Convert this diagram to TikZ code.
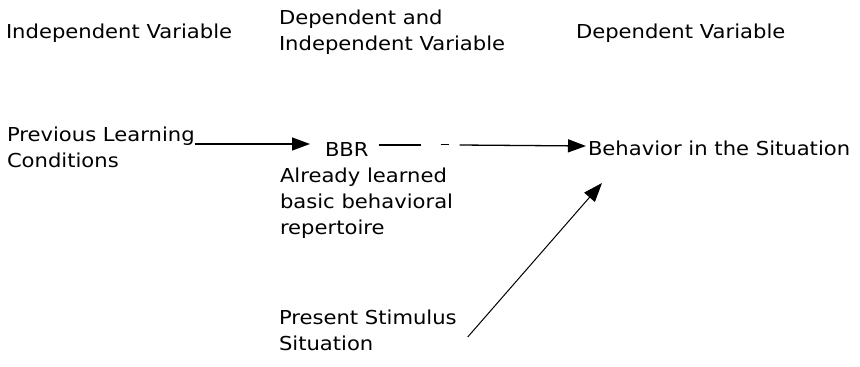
\documentclass[tikz,border=0pt]{standalone}
\usepackage{fontspec}
\setmainfont[FakeStretch=1.1]{DejaVu Sans}
\usetikzlibrary{arrows.meta}
\tikzset{
  lbl/.style={anchor=base west, inner sep=0pt, outer sep=0pt, font=\fontsize{19.2}{26}\selectfont},
  arr/.style={line width=1.3pt, -{Triangle[length=18pt,width=13pt]}},
  thinarr/.style={line width=1pt, -{Triangle[length=19pt,width=14pt]}},
  seg/.style={line width=1.3pt}
}
\begin{document}
\begin{tikzpicture}[x=1pt,y=-1pt]
\useasboundingbox (0,0) rectangle (860,367);
% headers
\node[lbl] (h1) at (6,38) {Independent Variable};
\node[lbl] (h2a) at (279,24.5) {Dependent and};
\node[lbl] (h2b) at (279,50.5) {Independent Variable};
\node[lbl] (h3) at (576,38) {Dependent Variable};
% left
\node[lbl] (pl1) at (7,141) {Previous Learning};
\node[lbl] (pl2) at (7,167) {Conditions};
% middle
\node[lbl] (bbr) at (325,156) {BBR};
\node[lbl] (al1) at (280,182) {Already learned};
\node[lbl] (al2) at (280,208) {basic behavioral};
\node[lbl] (al3) at (280,234) {repertoire};
% right
\node[lbl] (beh) at (588,155) {Behavior in the Situation};
% bottom
\node[lbl] (ps1) at (279,324) {Present Stimulus};
\node[lbl] (ps2) at (279,350) {Situation};
% connectors
\draw[arr] ([yshift=-3pt]pl1.base east) -- ([xshift=-15pt,yshift=12pt]bbr.base west);
\coordinate (g1) at ([xshift=52pt,yshift=11pt]bbr.base east);
\coordinate (g2) at ([xshift=72pt,yshift=12pt]bbr.base east);
\coordinate (g3) at ([xshift=80pt,yshift=12pt]bbr.base east);
\coordinate (g4) at ([xshift=91pt,yshift=11pt]bbr.base east);
\draw[seg] ([xshift=10pt,yshift=11pt]bbr.base east) -- (g1);
\draw[line width=1pt] (g2) -- (g3);
\draw[arr] (g4) -- ([xshift=-2pt,yshift=9pt]beh.base west);
\draw[thinarr] ([xshift=11pt,yshift=-13pt]ps1.base east) -- ([xshift=14pt,yshift=-28pt]beh.base west);
\end{tikzpicture}
\end{document}
